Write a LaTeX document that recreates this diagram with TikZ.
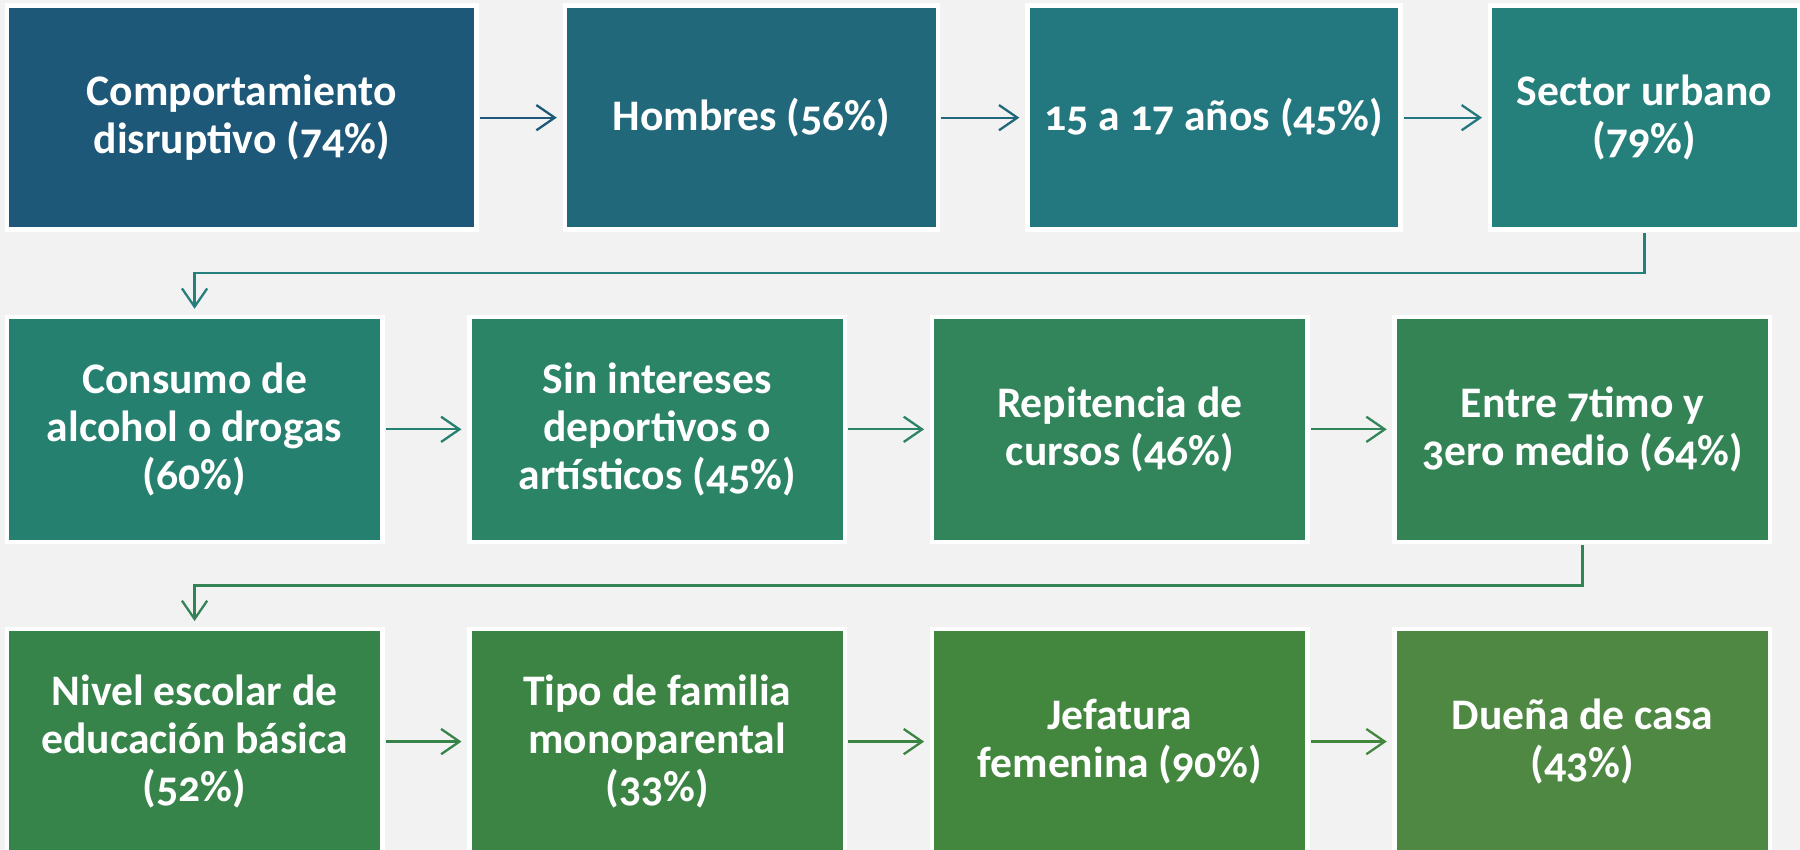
\documentclass[tikz,border=0pt]{standalone}
\usepackage{fontspec}
\setmainfont{Carlito}[Numbers=OldStyle]
\usepackage{tikz}
\usetikzlibrary{positioning,arrows.meta}

\definecolor{bgGray}{HTML}{F2F2F2}
\definecolor{cA}{HTML}{1E5878}
\definecolor{cB}{HTML}{21687B}
\definecolor{cC}{HTML}{23777F}
\definecolor{cD}{HTML}{25807C}
\definecolor{cE}{HTML}{26806F}
\definecolor{cF}{HTML}{2C8466}
\definecolor{cG}{HTML}{32845A}
\definecolor{cH}{HTML}{348355}
\definecolor{cI}{HTML}{36844A}
\definecolor{cJ}{HTML}{3B8443}
\definecolor{cK}{HTML}{43873F}
\definecolor{cL}{HTML}{4E8843}

\tikzset{
	box/.style={rectangle, fill=#1, draw=white, line width=4pt, outer sep=0pt, inner sep=0pt,
		minimum width=327pt, minimum height=196pt, text=white, align=center,
		font=\fontsize{38}{42}\selectfont\bfseries},
	flow/.style={draw=#1, line width=2pt, -{Straight Barb[length=16pt,width=22pt]},
		shorten <=3pt, shorten >=7pt},
}

\begin{document}
\begin{tikzpicture}[x=1pt, y=1pt]
	\fill[bgGray] (0,0) rectangle (1568,-740);
	\useasboundingbox (0,0) rectangle (1568,-740);

	\node[box=cA, minimum width=409pt, minimum height=195pt, anchor=north west] (r1a) at (6,-5) {Comportamiento\\disruptivo (74\%)};
	\node[box=cB, minimum width=325pt, minimum height=195pt, right=77pt of r1a] (r1b) {Hombres (56\%)};
	\node[box=cC, minimum width=325pt, minimum height=195pt, right=78pt of r1b] (r1c) {15 a 17 años (45\%)};
	\node[box=cD, minimum width=269pt, minimum height=195pt, right=78pt of r1c] (r1d) {Sector urbano\\(79\%)};

	\node[box=cE, below=76pt of r1a.south west, anchor=north west] (r2a) {Consumo de\\alcohol o drogas\\(60\%)};
	\node[box=cF, right=76pt of r2a] (r2b) {Sin intereses\\deportivos o\\artísticos (45\%)};
	\node[box=cG, right=76pt of r2b] (r2c) {Repitencia de\\cursos (46\%)};
	\node[box=cH, right=76pt of r2c] (r2d) {Entre 7timo y\\3ero medio (64\%)};

	\node[box=cI, below=76pt of r2a] (r3a) {Nivel escolar de\\educación básica\\(52\%)};
	\node[box=cJ, right=76pt of r3a] (r3b) {Tipo de familia\\monoparental\\(33\%)};
	\node[box=cK, right=76pt of r3b] (r3c) {Jefatura\\femenina (90\%)};
	\node[box=cL, right=76pt of r3c] (r3d) {Dueña de casa\\(43\%)};

	\draw[flow=cA] (r1a) -- (r1b);
	\draw[flow=cB] (r1b) -- (r1c);
	\draw[flow=cC] (r1c) -- (r1d);
	\draw[flow=cD] (r1d.south) -- ++(0,-38) -| (r2a.north);

	\draw[flow=cE] (r2a) -- (r2b);
	\draw[flow=cF] (r2b) -- (r2c);
	\draw[flow=cG] (r2c) -- (r2d);
	\draw[flow=cH] (r2d.south) -- ++(0,-38) -| (r3a.north);

	\draw[flow=cI] (r3a) -- (r3b);
	\draw[flow=cJ] (r3b) -- (r3c);
	\draw[flow=cK] (r3c) -- (r3d);
\end{tikzpicture}
\end{document}
